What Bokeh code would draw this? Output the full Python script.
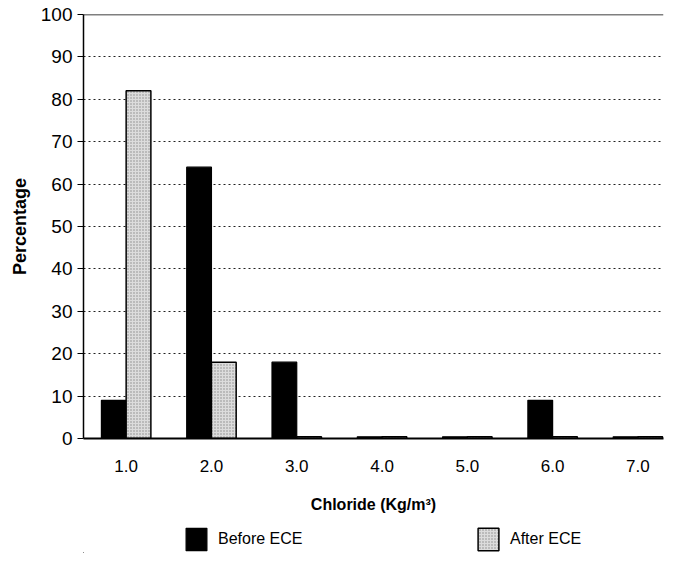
from bokeh.plotting import figure
from bokeh.models import ColumnDataSource, FixedTicker, Legend, LegendItem, Span
from bokeh.layouts import column
from bokeh.embed import file_html
from bokeh.resources import INLINE

categories = [1, 2, 3, 4, 5, 6, 7]
x_labels = ["1.0", "2.0", "3.0", "4.0", "5.0", "6.0", "7.0"]
before_ece = [9, 64, 18, 0.4, 0.4, 9, 0.4]
after_ece = [82, 18, 0.4, 0.4, 0.4, 0.4, 0.4]
y_ticks = [0, 10, 20, 30, 40, 50, 60, 70, 80, 90, 100]
series_names = ["Before ECE", "After ECE"]

FONT = "Liberation Sans"
BEFORE_STYLE = dict(fill_color="black", line_color="black", line_width=1.2)
AFTER_STYLE = dict(fill_color="#dcdcdc", line_color="black", line_width=1.5,
                   hatch_pattern="dot", hatch_color="#8a8a8a", hatch_scale=3, hatch_weight=1)

src = ColumnDataSource(dict(
    x=categories,
    xb=[c - 0.145 for c in categories],
    xa=[c + 0.145 for c in categories],
    before=before_ece,
    after=after_ece,
))

p = figure(width=667, height=520, output_backend="svg", toolbar_location=None,
           x_range=(0.5, 7.3), y_range=(0, 100),
           min_border_left=83, min_border_right=4, min_border_top=14, min_border_bottom=82)

p.vbar(x="xb", top="before", width=0.29, bottom=0, source=src, **BEFORE_STYLE)
p.vbar(x="xa", top="after", width=0.29, bottom=0, source=src, **AFTER_STYLE)

p.outline_line_color = None
p.background_fill_color = "white"
p.border_fill_color = "white"
p.add_layout(Span(location=100, dimension="width", line_color="black", line_width=1.5))

p.xgrid.grid_line_color = None
p.ygrid.ticker = FixedTicker(ticks=y_ticks[1:-1])
p.ygrid.grid_line_color = "#222222"
p.ygrid.grid_line_dash = "2 3"
p.ygrid.grid_line_width = 1

p.xaxis.ticker = FixedTicker(ticks=categories)
p.xaxis.major_label_overrides = {c: l for c, l in zip(categories, x_labels)}
p.xaxis.major_tick_line_color = None
p.xaxis.minor_tick_line_color = None
p.xaxis.axis_line_color = "black"
p.xaxis.axis_line_width = 2
p.xaxis.major_label_standoff = 15
p.xaxis.major_label_text_font = FONT
p.xaxis.major_label_text_font_size = "17px"
p.xaxis.major_label_text_color = "black"
p.xaxis.axis_label = "Chloride (Kg/m\u00b3)"
p.xaxis.axis_label_text_font = FONT
p.xaxis.axis_label_text_font_size = "16px"
p.xaxis.axis_label_text_font_style = "bold"
p.xaxis.axis_label_text_color = "black"
p.xaxis.axis_label_standoff = 21

p.yaxis.ticker = FixedTicker(ticks=y_ticks)
p.yaxis.minor_tick_line_color = None
p.yaxis.major_tick_out = 6
p.yaxis.major_tick_in = 0
p.yaxis.major_tick_line_color = "black"
p.yaxis.axis_line_color = "black"
p.yaxis.axis_line_width = 1.5
p.yaxis.major_label_standoff = 5
p.yaxis.major_label_text_font = FONT
p.yaxis.major_label_text_font_size = "19px"
p.yaxis.major_label_text_color = "black"
p.yaxis.axis_label = "Percentage"
p.yaxis.axis_label_text_font = FONT
p.yaxis.axis_label_text_font_size = "18px"
p.yaxis.axis_label_text_font_style = "bold"
p.yaxis.axis_label_text_color = "black"
p.yaxis.axis_label_standoff = 8

# legend strip below the chart (its renderers lie outside its empty view)
lg = figure(width=667, height=33, output_backend="svg", toolbar_location=None,
            x_range=(100, 101), y_range=(100, 101), x_axis_location=None, y_axis_location=None,
            min_border=0)
lg.outline_line_color = None
lg.grid.grid_line_color = None
r1 = lg.vbar(x="x", top="before", width=0.1, source=src, **BEFORE_STYLE)
r2 = lg.vbar(x="x", top="after", width=0.1, source=src, **AFTER_STYLE)

for name, rend, loc in ((series_names[0], r1, (100, 0)), (series_names[1], r2, (392, 0))):
    lg.add_layout(Legend(items=[LegendItem(label=name, renderers=[rend])], location=loc,
                         orientation="horizontal",
                         glyph_width=26, glyph_height=28, label_standoff=9, label_height=28,
                         label_text_font=FONT, label_text_font_size="16px",
                         label_text_color="black", border_line_color=None,
                         background_fill_alpha=0, padding=0, margin=0))

open("out.html", "w").write(file_html(column(p, lg), INLINE))
